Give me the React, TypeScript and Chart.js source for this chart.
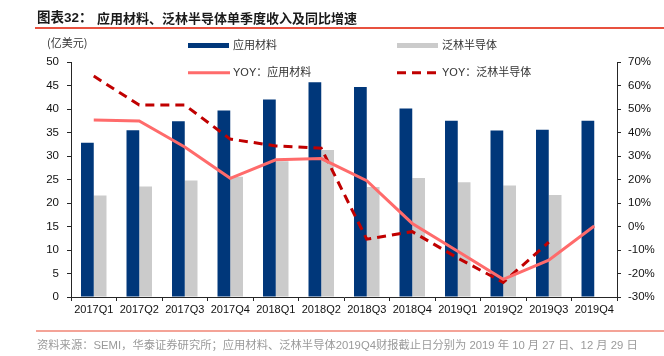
import React, { useEffect, useRef } from 'react';
import { Chart, registerables } from 'chart.js';

Chart.register(...registerables);

const categories = ['2017Q1', '2017Q2', '2017Q3', '2017Q4', '2018Q1', '2018Q2', '2018Q3', '2018Q4', '2019Q1', '2019Q2', '2019Q3', '2019Q4'];
const amatRevenue = [32.8, 35.5, 37.4, 39.7, 42.0, 45.7, 44.7, 40.1, 37.5, 35.4, 35.6, 37.5];
const lamRevenue = [21.6, 23.5, 24.8, 25.6, 28.9, 31.3, 23.4, 25.3, 24.4, 23.7, 21.7, null];
const amatYoy = [45.3, 44.9, 33.8, 20.5, 28.4, 28.9, 19.5, 1.3, -10.5, -22.5, -14.3, 0.2];
const lamYoy = [64.0, 51.7, 51.7, 37.2, 34.3, 33.3, -5.4, -2.2, -13.4, -23.8, -6.7, null];

const leftMin = 0;
const leftMax = 50;
const leftStep = 5;
const rightMin = -30;
const rightMax = 70;
const rightStep = 10;

const seriesLabels = ['应用材料', '泛林半导体', 'YOY：应用材料', 'YOY：泛林半导体'];

const BLUE = '#00377A';
const GRAY = '#CBCBCB';
const SALMON = '#FF6B6B';
const DARKRED = '#C00000';
const AXIS = '#262626';
const FONT = '"Liberation Sans", Arial, "Noto Sans CJK SC", sans-serif';

const legendPlugin = {
  id: 'cornerLegend',
  afterDraw(chart: any) {
    const ctx = chart.ctx as CanvasRenderingContext2D;
    const ds = chart.data.datasets;
    const cols = [188, 397];
    const rows = [45.5, 72.7];
    const swW = 42;
    ctx.save();
    ds.forEach((d: any, i: number) => {
      const x = cols[i % 2];
      const y = rows[Math.floor(i / 2)];
      if (d.type === 'line') {
        ctx.beginPath();
        ctx.strokeStyle = d.borderColor;
        ctx.lineWidth = d.borderWidth;
        ctx.setLineDash(d.borderDash || []);
        ctx.moveTo(x, y);
        ctx.lineTo(x + swW, y);
        ctx.stroke();
        ctx.setLineDash([]);
      } else {
        ctx.fillStyle = d.backgroundColor;
        ctx.fillRect(x, y - 2.5, swW - 1, 5);
      }
      ctx.fillStyle = '#333333';
      ctx.font = `11px ${FONT}`;
      ctx.textBaseline = 'middle';
      ctx.textAlign = 'left';
      ctx.fillText(d.label, x + swW + 3, y);
    });
    ctx.restore();
  },
};

export default function App() {
  const canvasRef = useRef<HTMLCanvasElement | null>(null);

  useEffect(() => {
    const canvas = canvasRef.current;
    if (!canvas) return;
    const chart = new Chart(canvas, {
      type: 'bar',
      data: {
        labels: categories,
        datasets: [
          {
            type: 'bar',
            label: seriesLabels[0],
            data: amatRevenue,
            backgroundColor: BLUE,
            yAxisID: 'y',
            order: 2,
            categoryPercentage: 0.56,
            barPercentage: 1,
          },
          {
            type: 'bar',
            label: seriesLabels[1],
            data: lamRevenue,
            backgroundColor: GRAY,
            yAxisID: 'y',
            order: 2,
            categoryPercentage: 0.56,
            barPercentage: 1,
          },
          {
            type: 'line',
            label: seriesLabels[2],
            data: amatYoy,
            borderColor: SALMON,
            backgroundColor: SALMON,
            borderWidth: 3,
            pointRadius: 0,
            tension: 0,
            yAxisID: 'y1',
            order: 0,
          },
          {
            type: 'line',
            label: seriesLabels[3],
            data: lamYoy,
            borderColor: DARKRED,
            backgroundColor: DARKRED,
            borderWidth: 3,
            borderDash: [9, 6],
            pointRadius: 0,
            tension: 0,
            yAxisID: 'y1',
            order: 1,
          },
        ] as any,
      },
      options: {
        animation: false,
        responsive: false,
        maintainAspectRatio: false,
        layout: { padding: { top: 62, left: 0, right: 0, bottom: 0 } },
        plugins: {
          legend: { display: false },
          tooltip: { enabled: false },
          title: { display: false },
        },
        scales: {
          x: {
            offset: true,
            grid: {
              display: true,
              offset: true,
              drawOnChartArea: false,
              drawTicks: true,
              tickLength: 4,
              color: AXIS,
              lineWidth: 1,
            },
            border: { display: true, color: AXIS, width: 1 },
            ticks: {
              color: '#111111',
              font: { family: FONT, size: 11 },
              padding: 2,
              maxRotation: 0,
              autoSkip: false,
            },
            afterFit: (s: any) => {
              s.height = 59;
            },
          },
          y: {
            position: 'left',
            min: leftMin,
            max: leftMax,
            grid: {
              display: true,
              drawOnChartArea: false,
              drawTicks: true,
              tickLength: 4,
              color: AXIS,
            },
            border: { display: true, color: AXIS, width: 1 },
            ticks: {
              stepSize: leftStep,
              color: '#111111',
              font: { family: FONT, size: 11.5 },
              padding: 8,
            },
            afterFit: (s: any) => {
              s.width = 71;
            },
          },
          y1: {
            position: 'right',
            min: rightMin,
            max: rightMax,
            grid: {
              display: true,
              drawOnChartArea: false,
              drawTicks: true,
              tickLength: 4,
              color: AXIS,
            },
            border: { display: true, color: AXIS, width: 1 },
            ticks: {
              stepSize: rightStep,
              color: '#111111',
              font: { family: FONT, size: 11.5 },
              padding: 7,
              callback: (v: any) => `${v}%`,
            },
            afterFit: (s: any) => {
              s.width = 47;
            },
          },
        },
      } as any,
      plugins: [legendPlugin],
    });
    return () => chart.destroy();
  }, []);

  const abs = (o: React.CSSProperties): React.CSSProperties => ({ position: 'absolute', whiteSpace: 'nowrap', ...o });

  return (
    <div style={{ position: 'absolute', left: 0, top: 0, width: 664, height: 356, background: '#ffffff', overflow: 'hidden' }}>
      <canvas ref={canvasRef} width={664} height={356} style={{ position: 'absolute', left: 0, top: 0, width: 664, height: 356 }} />
      <div style={abs({ left: 37, top: 10, fontFamily: '"Liberation Sans", Arial, "Noto Sans CJK SC", sans-serif', fontWeight: 'bold', fontSize: 13.5, lineHeight: '16px', color: '#1a1a1a' })}>
        图表32：
      </div>
      <div style={abs({ left: 97, top: 10, fontFamily: '"Noto Sans CJK SC", sans-serif', fontWeight: 'bold', fontSize: 13, lineHeight: '16px', color: '#1a1a1a' })}>
        应用材料、泛林半导体单季度收入及同比增速
      </div>
      <div style={abs({ left: 35, top: 27, width: 629, height: 2, background: '#E8513F' })} />
      <div style={abs({ left: 47, top: 34, fontFamily: '"Noto Sans CJK SC", sans-serif', fontSize: 11, lineHeight: '16px', color: '#333333' })}>
        (亿美元)
      </div>
      <div style={abs({ left: 36, top: 330, width: 628, height: 2, background: '#F4A397' })} />
      <div style={abs({ left: 37, top: 337, fontFamily: '"Liberation Sans", Arial, "Noto Sans CJK SC", sans-serif', fontSize: 11.3, lineHeight: '16px', color: '#9a9a9a' })}>
        资料来源：SEMI，华泰证券研究所；应用材料、泛林半导体2019Q4财报截止日分别为 2019 年 10 月 27 日、12 月 29 日
      </div>
    </div>
  );
}
